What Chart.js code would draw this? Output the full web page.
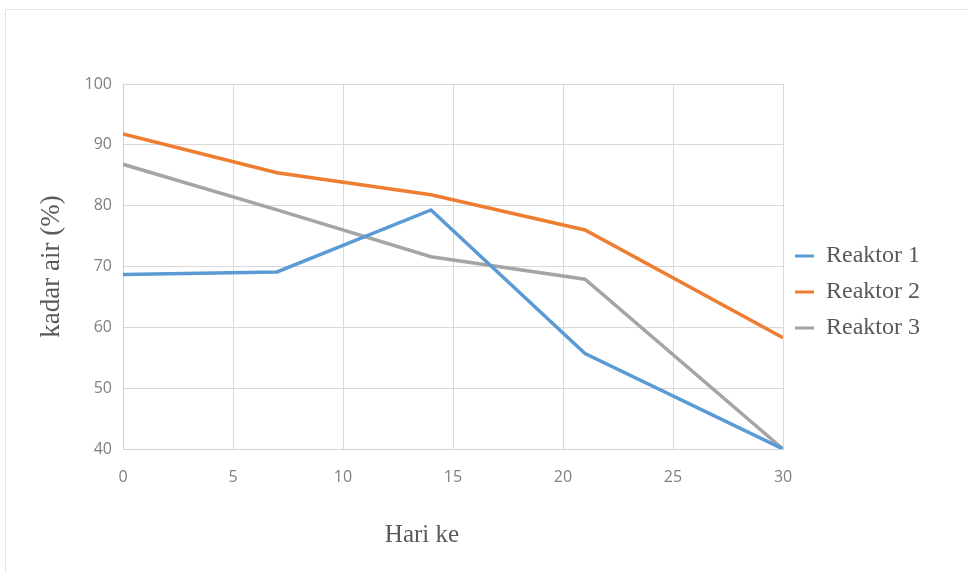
<!DOCTYPE html>
<html>
<head>
<meta charset="utf-8">
<script src="https://cdn.jsdelivr.net/npm/chart.js@4.4.1/dist/chart.umd.min.js"></script>
<style>
html, body { margin: 0; padding: 0; background: #fff; }
#wrap { position: relative; width: 967px; height: 572px; overflow: hidden; }
#frame { position: absolute; left: 5px; top: 9px; right: -10px; bottom: -10px;
         border-left: 1px solid #e2e2e2; border-top: 1px solid #e2e2e2; }
canvas { position: absolute; left: 0; top: 0; }
</style>
</head>
<body>
<div id="wrap"><div id="frame"></div><canvas id="chart_kadarAir" width="967" height="572"></canvas></div>
<script>
// data
var days = [0, 7, 14, 21, 30];
var reaktor1 = [68.7, 69.1, 79.3, 55.7, 40.0];
var reaktor2 = [91.8, 85.4, 81.8, 76.0, 58.3];
var reaktor3 = [86.8, 79.3, 71.6, 67.9, 40.0];
var seriesNames = ['Reaktor 1', 'Reaktor 2', 'Reaktor 3'];
var seriesColors = ['#5b9bd5', '#ed7d31', '#a5a5a5'];
var xTitle = 'Hari ke';
var yTitle = 'kadar air (%)';

function toPoints(values) {
    return values.map(function (v, i) { return { x: days[i], y: v }; });
}

var seriesValues = [reaktor1, reaktor2, reaktor3];
var datasets = seriesValues.map(function (vals, i) {
    return {
        label: seriesNames[i],
        data: toPoints(vals),
        borderColor: seriesColors[i],
        backgroundColor: seriesColors[i],
        borderWidth: 3.5,
        pointRadius: 0,
        tension: 0
    };
});

var serif = '"Liberation Serif", "Times New Roman", serif';
var tickFont = { family: '"Open Sans", sans-serif', size: 16 };

var chart_kadarAir = new Chart(document.getElementById('chart_kadarAir'), {
    type: 'line',
    data: { datasets: datasets },
    options: {
        animation: false,
        responsive: false,
        devicePixelRatio: 1,
        layout: { padding: { left: 30, top: 84, right: 37, bottom: 72 } },
        plugins: {
            tooltip: { enabled: false },
            legend: {
                position: 'right',
                labels: {
                    boxWidth: 19,
                    boxHeight: 3,
                    padding: 12,
                    color: '#595959',
                    font: { family: serif, size: 24 },
                    generateLabels: function (chart) {
                        var items = Chart.defaults.plugins.legend.labels.generateLabels(chart);
                        items.forEach(function (it) {
                            it.lineWidth = 0;
                            it.fillStyle = it.strokeStyle;
                        });
                        return items;
                    }
                }
            }
        },
        scales: {
            x: {
                type: 'linear',
                min: 0,
                max: 30,
                ticks: { stepSize: 5, padding: 19, color: '#808080', font: tickFont },
                grid: { color: '#d9d9d9', lineWidth: 1, drawTicks: false },
                border: { color: '#d0d0d0' },
                afterFit: function (scale) { scale.height = 51; }
            },
            y: {
                min: 40,
                max: 100,
                ticks: { stepSize: 10, padding: 11, color: '#808080', font: tickFont },
                grid: { color: '#d9d9d9', lineWidth: 1, drawTicks: false },
                border: { color: '#d0d0d0' },
                title: {
                    display: true,
                    text: yTitle,
                    color: '#595959',
                    font: { family: serif, size: 27 },
                    padding: { top: 6, bottom: 0 }
                },
                afterFit: function (scale) { scale.width = 93; }
            }
        }
    },
    plugins: [{
        id: 'xTitlePlugin',
        afterDraw: function (chart) {
            var ctx = chart.ctx;
            var area = chart.chartArea;
            ctx.save();
            ctx.font = '25px ' + serif;
            ctx.fillStyle = '#595959';
            ctx.textAlign = 'center';
            ctx.textBaseline = 'middle';
            ctx.fillText(xTitle, area.left + (area.right - area.left) * 0.453, 535);
            ctx.restore();
        }
    }]
});
</script>
</body>
</html>
